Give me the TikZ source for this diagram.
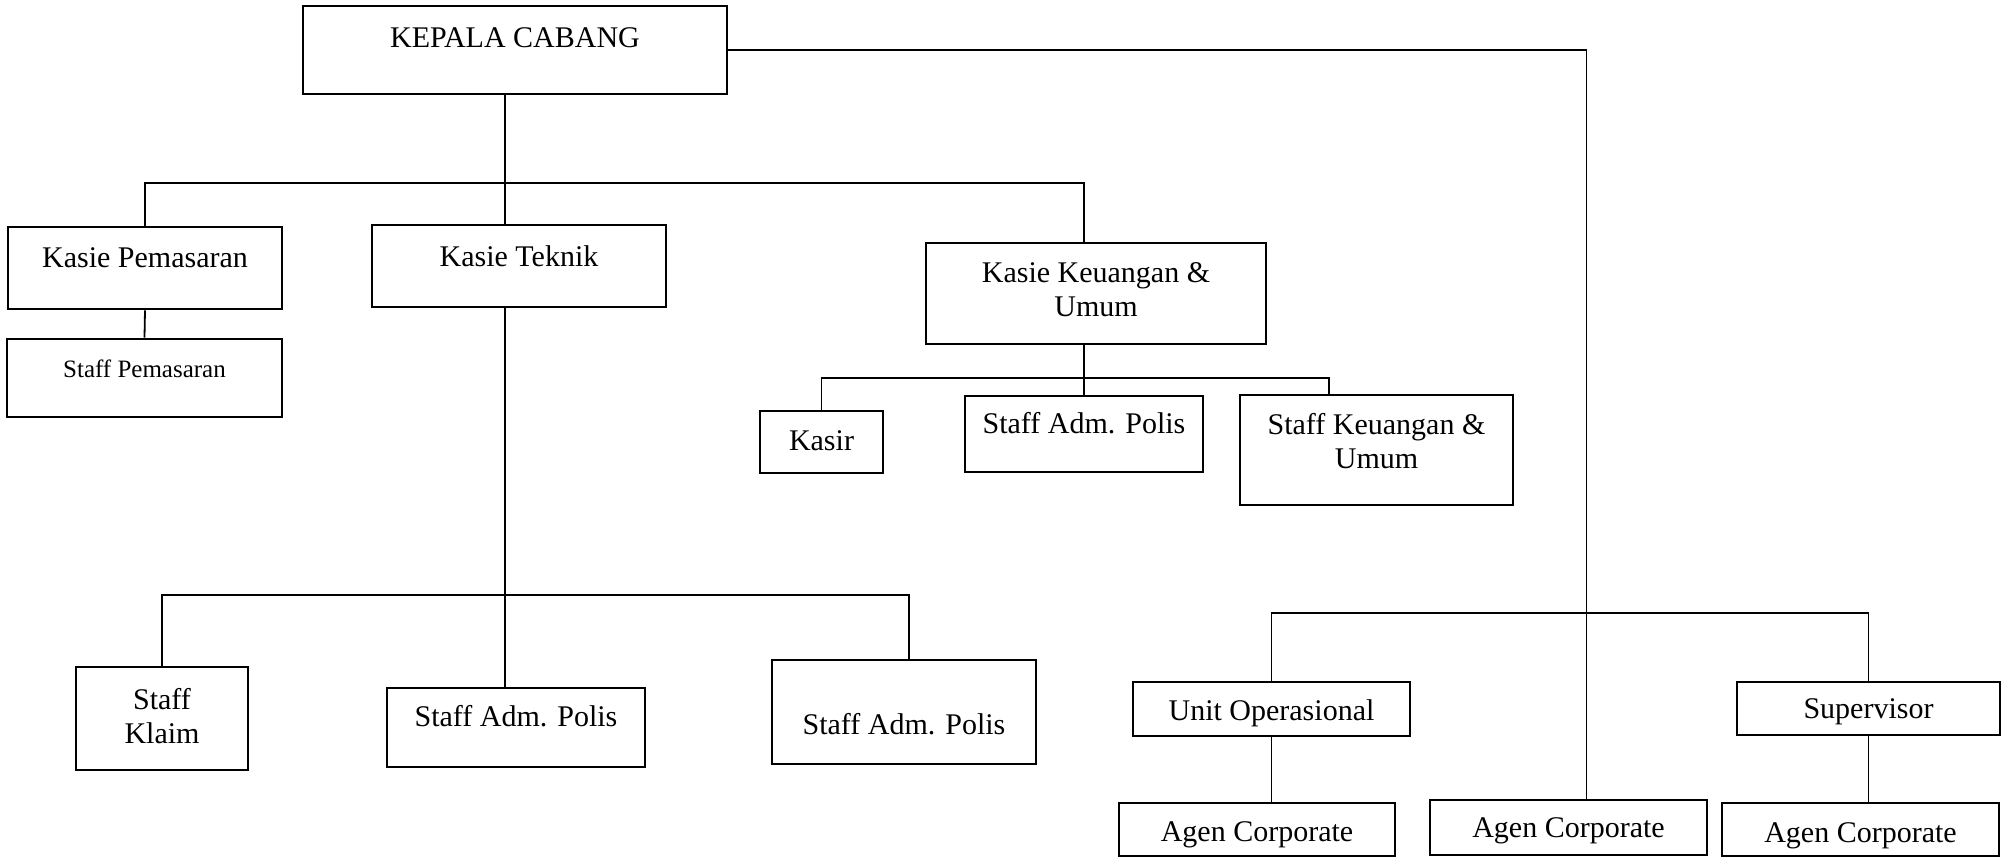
\documentclass[tikz,border=0pt]{standalone}
\usepackage{fontspec}
\setmainfont{Liberation Serif}
\tikzset{
    unit/.style={
        rectangle,
        draw=black,
        line width=1.4pt,
        align=center,
        anchor=base,
        inner xsep=0pt,
        inner ysep=0pt,
        font=\fontsize{15pt}{17pt}\selectfont
    },
    smallunit/.style={
        unit,
        font=\fontsize{12.5pt}{15pt}\selectfont
    },
    link/.style={
        line width=0.9pt
    }
}

\begin{document}
\begin{tikzpicture}[x=0.5pt, y=-0.5pt]
\useasboundingbox (0,0) rectangle (2010,858);

\node[unit, minimum width=212pt, text height=20.5pt, text depth=23.5pt] (kepala) at (515,47) {KEPALA CABANG};
\node[unit, minimum width=137pt, text height=20pt, text depth=21pt] (kpemasaran) at (145,267) {Kasie Pemasaran};
\node[unit, minimum width=147pt, text height=20.5pt, text depth=20.5pt] (kteknik) at (519,266) {Kasie Teknik};
\node[unit, minimum width=170pt, text height=36.5pt, text depth=14pt] (kkeuangan) at (1096,316) {Kasie Keuangan \&\\Umum};
\node[smallunit, minimum width=137.5pt, text height=19pt, text depth=20pt] (spemasaran) at (144.5,377) {Staff Pemasaran};

\node[unit, minimum width=61.5pt, text height=19.5pt, text depth=11.5pt] (kasir) at (821.5,450) {Kasir};
\node[unit, minimum width=119pt, text height=18.5pt, text depth=19.5pt] (sadm) at (1084,433) {Staff Adm. Polis};
\node[unit, minimum width=136.5pt, text height=36.5pt, text depth=18.5pt] (skeu) at (1376.5,468) {Staff Keuangan \&\\Umum};

\node[unit, minimum width=86pt, text height=38pt, text depth=13.5pt] (sklaim) at (162,743) {Staff\\Klaim};
\node[unit, minimum width=129pt, text height=19pt, text depth=20.5pt] (sadmb) at (516,726) {Staff Adm. Polis};
\node[unit, minimum width=132pt, text height=37pt, text depth=15pt] (sadmc) at (904,734) {Staff Adm. Polis};

\node[unit, minimum width=138.5pt, text height=19pt, text depth=8pt] (unitop) at (1271.5,720) {Unit Operasional};
\node[unit, minimum width=131.5pt, text height=18pt, text depth=8.5pt] (superv) at (1868.5,718) {Supervisor};
\node[unit, minimum width=138pt, text height=19pt, text depth=7.5pt] (agena) at (1257,841) {Agen Corporate};
\node[unit, minimum width=138.5pt, text height=18.5pt, text depth=9pt] (agenb) at (1568.5,837) {Agen Corporate};
\node[unit, minimum width=138.5pt, text height=19.5pt, text depth=7pt] (agenc) at (1860.5,842) {Agen Corporate};

% bus ends
\coordinate (busa) at (1084,183);
\coordinate (busb) at (1329,378);
\coordinate (busc) at (909,595);
\coordinate (busd) at (1586,613);

\draw[link] ([xshift=-5pt]kepala.south) -- ([xshift=-5pt]kepala.south |- kteknik.north);
\draw[link] (kpemasaran.north) |- (busa) -- (busa |- kkeuangan.north);
\draw[link] (kpemasaran.south) -- (spemasaran.north);

\draw[link] (kkeuangan.south -| sadm) -- (sadm.north);
\draw[link] (kasir.north) |- (busb) -- (busb |- skeu.north);

\draw[link] ([xshift=-7pt]kteknik.south) -- ([xshift=-7pt]kteknik.south |- sadmb.north);
\draw[link] (sklaim.north) |- (busc) -- (busc |- sadmc.north);

\draw[link] (kepala.east) -| ([xshift=9pt]agenb.north);
\draw[link] (unitop.north) |- (busd) -| (superv.north);
\draw[link] (unitop.south) -- (unitop.south |- agena.north);
\draw[link] (superv.south) -- (superv.south |- agenc.north);
\end{tikzpicture}
\end{document}
